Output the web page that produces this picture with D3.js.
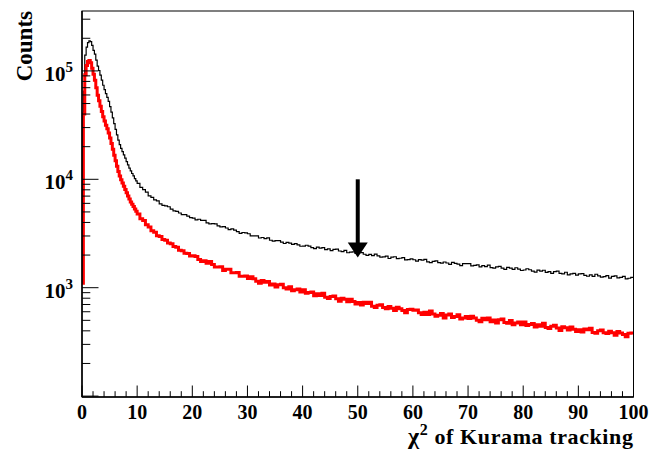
<!DOCTYPE html>
<html><head><meta charset="utf-8">
<script src="https://cdn.jsdelivr.net/npm/d3@7"></script>
<style>
body{margin:0;background:#fff;}
svg{display:block;font-family:"Liberation Serif","Times New Roman",serif;font-weight:bold;}
</style>
</head><body>
<svg id="chart" width="650" height="450"></svg>
<script>
// ---- data ----
const xRange = [0, 100];
// bins: 0.25 wide below 10, 0.5 wide above
const binEdges = d3.range(0, 10, 0.25).concat(d3.range(10, 100.001, 0.5));
const xTickValues = [0, 10, 20, 30, 40, 50, 60, 70, 80, 90, 100];
const yDecades = [3, 4, 5];
const yRange = [98.1, 357000];

// black: all tracks
const countsAll = [
  1600, 65000, 140000, 166000, 182000, 189000, 186000, 172000, 154900, 143000, 126000, 110900, 100900, 91300, 82300, 73700, 67300, 61600, 56900, 52300,
  46800, 41700, 36900, 32600, 28900, 25700, 23000, 20900, 19300, 18000, 16800, 15700, 14550, 13600, 12700, 11950, 11310, 10770, 10160, 9660,
  9166, 8415, 8024, 7614, 7028, 6800, 6456, 6313, 5938, 5751, 5684, 5582, 5317, 5105, 5060, 4889, 4727, 4732, 4575, 4424,
  4378, 4226, 4280, 4182, 4184, 3968, 3877, 3904, 3882, 3726, 3637, 3664, 3554, 3430, 3491, 3393, 3291, 3177, 3232, 3199,
  3146, 3013, 3010, 3006, 2873, 2905, 2833, 2878, 2739, 2687, 2718, 2723, 2632, 2556, 2620, 2580, 2507, 2552, 2485, 2413,
  2416, 2465, 2414, 2339, 2289, 2371, 2315, 2345, 2250, 2280, 2198, 2258, 2273, 2180, 2148, 2207, 2101, 2129, 2145, 2069,
  2110, 2107, 2035, 1988, 2033, 1973, 2042, 1970, 1914, 1926, 1954, 1860, 1914, 1929, 1852, 1869, 1894, 1803, 1816, 1848,
  1810, 1755, 1817, 1793, 1826, 1729, 1706, 1752, 1770, 1705, 1682, 1727, 1690, 1644, 1714, 1680, 1648, 1598, 1666, 1669,
  1665, 1590, 1608, 1627, 1555, 1596, 1562, 1618, 1535, 1516, 1557, 1574, 1518, 1473, 1538, 1518, 1475, 1527, 1484, 1441,
  1457, 1495, 1464, 1421, 1390, 1451, 1420, 1449, 1384, 1409, 1357, 1407, 1420, 1357, 1341, 1388, 1314, 1341, 1354, 1306,
  1341, 1347, 1301, 1276, 1312, 1274, 1331, 1286, 1250, 1267, 1292, 1227, 1273, 1285, 1231, 1246, 1272, 1207, 1222, 1244
];

// red: selected tracks
const countsSel = [
  1100, 40000, 92000, 112000, 122000, 125000, 119000, 106000, 93300, 82200, 70000, 59600, 53100, 47300, 42200, 37800, 34500, 31600, 29200, 26800,
  24000, 21400, 18900, 16700, 14800, 13200, 11800, 10700, 9890, 9230, 8610, 8040, 7500, 7010, 6580, 6190, 5890, 5610, 5320, 5060,
  4780, 4330, 4160, 3810, 3640, 3350, 3240, 3020, 2960, 2790, 2740, 2580, 2540, 2400, 2360, 2210, 2190, 2080, 2070, 1960,
  1967, 1941, 1823, 1745, 1776, 1684, 1746, 1641, 1555, 1551, 1562, 1440, 1481, 1478, 1375, 1374, 1383, 1276, 1272, 1284,
  1219, 1259, 1210, 1149, 1101, 1166, 1121, 1143, 1059, 1081, 1014, 1064, 1075, 1000, 974, 1021, 938, 959, 971, 913,
  959, 888, 902, 912, 845, 880, 846, 891, 816, 796, 829, 840, 789, 749, 801, 782, 743, 783, 746, 708,
  729, 693, 733, 715, 736, 674, 658, 687, 697, 655, 641, 669, 646, 615, 660, 638, 616, 586, 628, 632,
  620, 623, 586, 565, 594, 565, 609, 573, 545, 557, 577, 526, 561, 573, 531, 543, 563, 513, 525, 543,
  519, 544, 526, 502, 484, 523, 506, 524, 486, 504, 473, 505, 515, 478, 469, 499, 456, 473, 483, 454,
  483, 448, 458, 468, 433, 455, 440, 469, 429, 420, 441, 451, 424, 403, 437, 428, 407, 435, 414, 395,
  409, 390, 416, 409, 423, 387, 379, 400, 408, 385, 377, 397, 384, 365, 395, 382, 370, 352, 381, 383
];

const cutValue = 50;
const arrowFrom = 10000;
const arrowTo = 1900;
const yTitle = "Counts";
const xTitleSymbol = "\u03C7";
const xTitleSup = "2";
const xTitleRest = " of Kurama tracking";

// ---- drawing ----
const svg = d3.select("#chart");
const L = 82, R = 633.5, T = 11, B = 397;
const x = d3.scaleLinear().domain(xRange).range([L, R]);
const y = d3.scaleLog().domain(yRange).range([B, T]);

svg.append("defs").append("clipPath").attr("id", "clip")
  .append("rect").attr("x", L).attr("y", T).attr("width", R - L).attr("height", B - T);

function stepPoints(counts) {
  const pts = [];
  counts.forEach((c, i) => {
    pts.push([binEdges[i], c]);
    pts.push([binEdges[i + 1], c]);
  });
  return pts;
}
const line = d3.line().x(d => x(d[0])).y(d => y(d[1]));

const g = svg.append("g").attr("clip-path", "url(#clip)");
g.append("path").attr("d", line(stepPoints(countsAll)))
  .attr("fill", "none").attr("stroke", "#000").attr("stroke-width", 1.2);
g.append("path").attr("d", line(stepPoints(countsSel)))
  .attr("fill", "none").attr("stroke", "#ff0000").attr("stroke-width", 3);

// frame
svg.append("rect").attr("x", L).attr("y", T).attr("width", R - L).attr("height", B - T)
  .attr("fill", "none").attr("stroke", "#000").attr("stroke-width", 1);
svg.append("line").attr("x1", L).attr("x2", L).attr("y1", T).attr("y2", B).attr("stroke", "#000").attr("stroke-width", 1.5);
svg.append("line").attr("x1", L).attr("x2", R).attr("y1", B).attr("y2", B).attr("stroke", "#000").attr("stroke-width", 1.5);

// x ticks
const xMinor = d3.range(xRange[0], xRange[1] + 0.001, 2);
xMinor.forEach(v => {
  const major = xTickValues.includes(v);
  svg.append("line").attr("x1", x(v)).attr("x2", x(v))
    .attr("y1", B).attr("y2", B - (major ? 11.5 : 5.8))
    .attr("stroke", "#000").attr("stroke-width", 1);
});
svg.append("g").selectAll("text").data(xTickValues).join("text")
  .attr("x", d => x(d)).attr("y", 419).attr("text-anchor", "middle")
  .attr("font-size", 20).text(d => d);

// y ticks
for (let d = 2; d <= 5; d++) {
  for (let k = 1; k <= 9; k++) {
    const v = k * Math.pow(10, d);
    if (v < yRange[0] || v > yRange[1]) continue;
    svg.append("line").attr("x1", L).attr("x2", L + (k === 1 ? 16.5 : 8.3))
      .attr("y1", y(v)).attr("y2", y(v)).attr("stroke", "#000").attr("stroke-width", 1);
  }
}
yDecades.forEach(d => {
  const yy = y(Math.pow(10, d));
  const t = svg.append("text").attr("x", 73).attr("y", yy + 10).attr("text-anchor", "end").attr("font-size", 21);
  t.append("tspan").text("10");
  t.append("tspan").attr("font-size", 15).attr("dy", -9).text(d);
});

// titles
svg.append("text").attr("transform", `translate(32,${T}) rotate(-90)`)
  .attr("text-anchor", "end").attr("font-size", 23).text(yTitle);
const xt = svg.append("text").attr("x", R).attr("y", 444).attr("text-anchor", "end")
  .attr("font-size", 22).attr("letter-spacing", 0.6);
xt.append("tspan").attr("font-size", 24).text(xTitleSymbol);
xt.append("tspan").attr("font-size", 16).attr("dy", -9).text(xTitleSup);
xt.append("tspan").attr("dy", 9).text(xTitleRest);

// arrow
const ax = x(cutValue), ay1 = y(arrowFrom), ay2 = y(arrowTo);
svg.append("line").attr("x1", ax).attr("x2", ax).attr("y1", ay1).attr("y2", ay2 - 12)
  .attr("stroke", "#000").attr("stroke-width", 4);
svg.append("path").attr("d", `M${ax - 10},${ay2 - 15} L${ax + 10},${ay2 - 15} L${ax},${ay2} Z`).attr("fill", "#000");
</script>
</body></html>
